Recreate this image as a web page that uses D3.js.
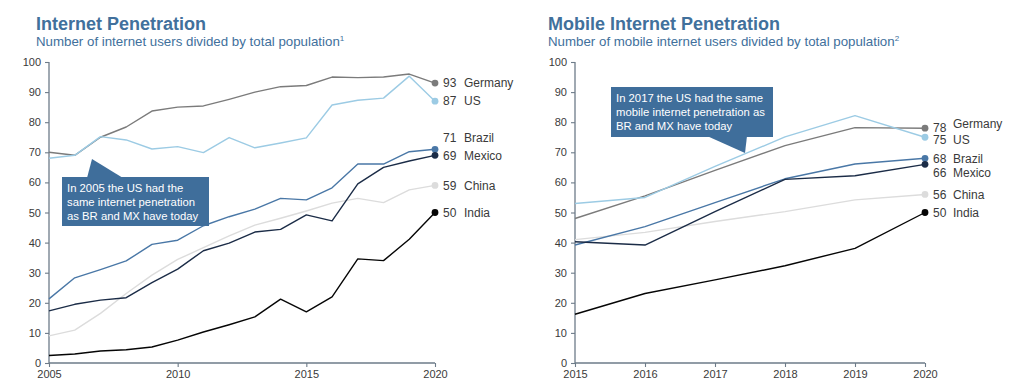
<!DOCTYPE html>
<html><head><meta charset="utf-8">
<script src="https://cdn.jsdelivr.net/npm/d3@7/dist/d3.min.js"></script>
<style>
body{margin:0;background:#fff;}
svg{display:block;font-family:"Liberation Sans",Arial,sans-serif;}
</style></head>
<body><svg id="c" width="1024" height="392"></svg>
<script>
// ---------- DATA ----------
const countries = ["Germany","US","Brazil","Mexico","China","India"];
const yearsLeft = [2005,2006,2007,2008,2009,2010,2011,2012,2013,2014,2015,2016,2017,2018,2019,2020];
const germanyLeft = [70,69,75,78.4,83.7,85,85.4,87.6,90,91.8,92.2,95,94.8,95,96,93];
const usLeft      = [68,69,75.2,74.1,71.1,71.9,69.9,74.9,71.5,73.1,74.8,85.7,87.3,88,95.3,87];
const brazilLeft  = [21.3,28.3,31,33.9,39.4,40.8,45.6,48.6,51.1,54.7,54.2,58.2,66.1,66.1,70.2,71];
const mexicoLeft  = [17.3,19.5,20.9,21.7,26.7,31.2,37.3,39.8,43.5,44.4,49.2,47.2,59.5,65,67.1,69];
const chinaLeft   = [9,10.9,16.5,23.1,29.2,34.4,38.3,42.2,45.8,48.1,50.5,53.1,54.7,53.3,57.5,59];
const indiaLeft   = [2.5,3,4,4.4,5.3,7.6,10.3,12.7,15.3,21.2,17,22,34.6,34,41.1,50];

const yearsRight = [2015,2016,2017,2018,2019,2020];
const germanyRight = [48,55.5,64,72.2,78.2,78];
const usRight      = [53,55,65.3,75.1,82.2,75];
const brazilRight  = [39.2,45.3,53.3,61.2,66.1,68];
const mexicoRight  = [40.3,39.2,50.3,61,62.2,66];
const chinaRight   = [41,43.4,47,50.3,54.2,56];
const indiaRight   = [16.2,23.1,27.6,32.3,38.1,50];

const yTicks = [0,10,20,30,40,50,60,70,80,90,100];
const xTicksLeft = [2005,2010,2015,2020];
const xTicksRight = [2015,2016,2017,2018,2019,2020];

const leftTitle = "Internet Penetration";
const leftSubtitle = "Number of internet users divided by total population";
const rightTitle = "Mobile Internet Penetration";
const rightSubtitle = "Number of mobile internet users divided by total population";
const leftNote = ["In 2005 the US had the","same internet penetration","as BR and MX have today"];
const rightNote = ["In 2017 the US had the same","mobile internet penetration as","BR and MX have today"];

// ---------- STYLE ----------
const colors = {Germany:"#7b7b7b", US:"#9ccbe4", Brazil:"#4977a6", Mexico:"#1b2c47", China:"#dcdcdc", India:"#050505"};
const titleColor = "#41709c";
const boxColor = "#3f6e9b";
const axisColor = "#6d7b89";
const textColor = "#3a3a3a";

const svg = d3.select("#c");

function panel(opt){
  const g = svg.append("g");
  const x = d3.scaleLinear().domain(d3.extent(opt.years)).range([opt.x0, opt.x1]);
  const y = d3.scaleLinear().domain([0,100]).range([363, 62]);

  g.append("text").attr("x", opt.tx).attr("y", 30).attr("fill", titleColor)
    .attr("font-size", 18).attr("font-weight", "bold").text(opt.title);
  const st = g.append("text").attr("x", opt.tx).attr("y", 46).attr("fill", titleColor)
    .attr("font-size", 13.3).text(opt.subtitle);
  st.append("tspan").attr("font-size", 8).attr("dy", -5).text(opt.sup);

  const ya = g.append("g").attr("transform", `translate(${opt.x0},0)`)
    .call(d3.axisLeft(y).tickValues(yTicks).tickSize(4).tickPadding(4));
  const xa = g.append("g").attr("transform", `translate(0,363)`)
    .call(d3.axisBottom(x).tickValues(opt.xTicks).tickFormat(d3.format("d")).tickSize(4).tickPadding(3));
  [ya, xa].forEach(a => {
    a.select(".domain").attr("stroke", axisColor).attr("stroke-width", 1.3);
    a.selectAll(".tick line").attr("stroke", axisColor).attr("stroke-width", 1.1);
    a.selectAll(".tick text").attr("fill", textColor).attr("font-size", 11)
      .attr("font-family", "Liberation Sans, Arial, sans-serif");
  });
  ya.select(".domain").attr("d", `M-0,${y(100)}V${y(0)}`);
  xa.select(".domain").attr("d", `M${opt.x0},0H${opt.x1}`);

  const line = d3.line().x((d,i) => x(opt.years[i])).y(d => y(d));
  const order = ["China","Germany","US","Brazil","Mexico","India"];
  order.forEach(c => {
    g.append("path").attr("d", line(opt.series[c])).attr("fill","none")
      .attr("stroke", colors[c]).attr("stroke-width", 1.4).attr("stroke-linejoin","round");
  });

  // labels
  const last = countries.map(c => ({c, v: opt.series[c][opt.series[c].length-1]}));
  last.forEach(d => d.ly = y(d.v));
  opt.dodge(last);
  last.forEach(d => {
    g.append("circle").attr("cx", x(opt.years[opt.years.length-1])).attr("cy", y(d.v)).attr("r", 3.4).attr("fill", colors[d.c]);
    g.append("text").attr("x", x(opt.years[opt.years.length-1]) + 8).attr("y", d.ly).attr("dy","0.35em")
      .attr("font-size", 12).attr("fill", textColor).text(d3.format(".0f")(d.v));
    g.append("text").attr("x", x(opt.years[opt.years.length-1]) + opt.nameOff).attr("y", d.ly + (opt.nameNudge[d.c]||0)).attr("dy","0.35em")
      .attr("font-size", 12).attr("fill", textColor).text(d.c);
  });

  // callout
  const b = opt.box;
  g.append("path").attr("d", opt.pointer).attr("fill", boxColor);
  g.append("rect").attr("x", b.x).attr("y", b.y).attr("width", b.w).attr("height", b.h).attr("fill", boxColor);
  opt.note.forEach((t,i) => {
    g.append("text").attr("x", b.x + 5).attr("y", b.y + 11 + i*14).attr("dy","0.35em")
      .attr("font-size", 11.3).attr("fill", "#fff").text(t);
  });
  return {x, y};
}

function pack(g,us,br,mx,cn,in_){ return {Germany:g, US:us, Brazil:br, Mexico:mx, China:cn, India:in_}; }

panel({
  years: yearsLeft, x0: 49, x1: 435, tx: 36,
  title: leftTitle, subtitle: leftSubtitle, sup: "1", xTicks: xTicksLeft,
  series: pack(germanyLeft, usLeft, brazilLeft, mexicoLeft, chinaLeft, indiaLeft),
  nameOff: 29, nameNudge: {},
  dodge: arr => { // push upward from bottom
    const s = arr.slice().sort((a,b) => b.ly - a.ly);
    for (let i=1;i<s.length;i++) if (s[i-1].ly - s[i].ly < 18) s[i].ly = s[i-1].ly - 18;
  },
  note: leftNote,
  box: {x: 62, y: 177, w: 147, h: 49},
  pointer: "M87,178L92,159L123,178Z"
});

panel({
  years: yearsRight, x0: 575, x1: 925, tx: 548,
  title: rightTitle, subtitle: rightSubtitle, sup: "2", xTicks: xTicksRight,
  series: pack(germanyRight, usRight, brazilRight, mexicoRight, chinaRight, indiaRight),
  nameOff: 28, nameNudge: {Germany: -4},
  dodge: arr => { // push downward from top
    const s = arr.slice().sort((a,b) => a.ly - b.ly);
    for (let i=1;i<s.length;i++) if (s[i].ly - s[i-1].ly < 12) s[i].ly = s[i-1].ly + 12;
    s.forEach(d => { if (d.c === "Mexico") d.ly += 2; });
  },
  note: rightNote,
  box: {x: 611, y: 87, w: 162, h: 50},
  pointer: "M707,136L745,153L747,136Z"
});
</script>
</body></html>
